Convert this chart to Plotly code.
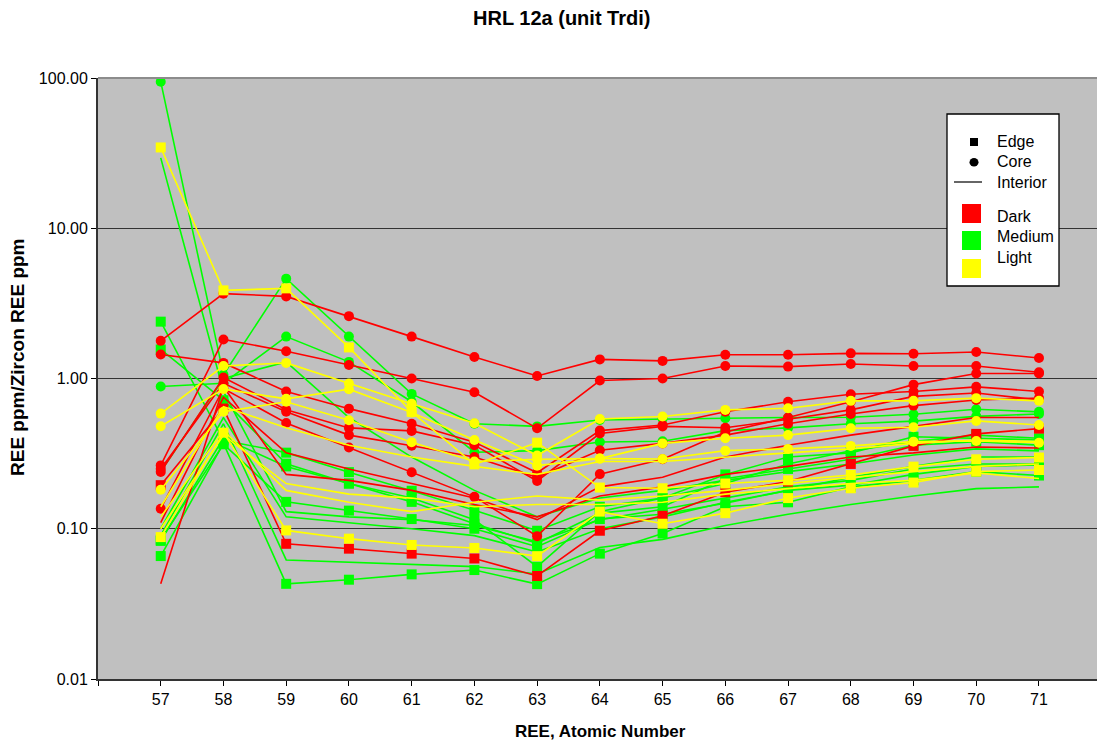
import plotly.graph_objects as go

# REE atomic numbers (La..Lu); 56 is an empty leading slot on the axis
atomic_numbers = [57, 58, 59, 60, 61, 62, 63, 64, 65, 66, 67, 68, 69, 70, 71]
tick_positions = [56] + atomic_numbers
tick_labels = [""] + [str(n) for n in atomic_numbers]

y_tick_values = [0.01, 0.1, 1, 10, 100]
y_tick_labels = ["0.01", "0.10", "1.00", "10.00", "100.00"]

# Dark grains
dark_core = [
    [1.78, 3.67, 3.52, 2.60, 1.90, 1.39, 1.04, 1.34, 1.31, 1.44, 1.44, 1.47, 1.46, 1.50, 1.37],
    [0.264, 1.82, 1.52, 1.23, 1.00, 0.81, 0.466, 0.97, 1.00, 1.21, 1.20, 1.25, 1.21, 1.21, 1.10],
    [1.445, 1.27, 0.82, 0.63, 0.50, 0.377, 0.236, 0.45, 0.49, 0.60, 0.70, 0.786, 0.82, 0.88, 0.82],
    [0.239, 1.015, 0.62, 0.469, 0.448, 0.36, 0.208, 0.43, 0.48, 0.47, 0.535, 0.618, 0.76, 0.80, 0.72],
    [0.25, 0.93, 0.60, 0.42, 0.357, 0.30, 0.22, 0.333, 0.37, 0.42, 0.50, 0.58, 0.66, 0.72, 0.74],
    [0.136, 0.858, 0.506, 0.347, 0.238, 0.163, 0.0893, 0.231, 0.29, 0.44, 0.55, 0.70, 0.91, 1.08, 1.08],
]
dark_edge = [
    [0.195, 0.631, 0.0794, 0.0737, 0.0683, 0.0634, 0.0485, 0.097, 0.122, 0.175, 0.206, 0.27, 0.356, 0.428, 0.464],
]
dark_interior = [
    [0.043, 0.88, 0.23, 0.21, 0.18, 0.145, 0.12, 0.165, 0.19, 0.23, 0.26, 0.30, 0.32, 0.35, 0.345],
    [0.11, 0.75, 0.32, 0.25, 0.20, 0.16, 0.115, 0.19, 0.22, 0.30, 0.36, 0.42, 0.48, 0.55, 0.55],
]

# Medium grains
medium_core = [
    [94.5, 1.06, 4.62, 1.90, 0.79, 0.50, 0.48, 0.53, 0.54, 0.544, 0.55, 0.552, 0.578, 0.624, 0.60],
    [0.884, 0.93, 1.90, 1.29, 0.70, 0.323, 0.331, 0.378, 0.382, 0.45, 0.469, 0.50, 0.52, 0.56, 0.58],
]
medium_edge = [
    [2.39, 0.388, 0.321, 0.238, 0.179, 0.133, 0.097, 0.14, 0.16, 0.23, 0.30, 0.32, 0.41, 0.40, 0.39],
    [1.56, 0.717, 0.271, 0.20, 0.151, 0.108, 0.080, 0.127, 0.14, 0.215, 0.25, 0.29, 0.36, 0.38, 0.36],
    [0.0845, 0.365, 0.151, 0.132, 0.116, 0.10, 0.076, 0.116, 0.125, 0.148, 0.18, 0.195, 0.23, 0.26, 0.266],
    [0.0658, 0.37, 0.043, 0.0458, 0.0497, 0.0531, 0.0428, 0.0683, 0.093, 0.14, 0.15, 0.19, 0.21, 0.24, 0.226],
    [0.083, 0.40, 0.26, 0.20, 0.16, 0.115, 0.0559, 0.13, 0.16, 0.20, 0.27, 0.33, 0.38, 0.42, 0.40],
]
medium_interior = [
    [29.4, 0.82, 0.13, 0.12, 0.115, 0.105, 0.082, 0.115, 0.135, 0.16, 0.19, 0.21, 0.25, 0.27, 0.27],
    [0.09, 0.50, 0.062, 0.060, 0.058, 0.056, 0.050, 0.075, 0.085, 0.105, 0.125, 0.145, 0.165, 0.185, 0.19],
    [0.10, 0.55, 0.12, 0.11, 0.10, 0.09, 0.07, 0.10, 0.12, 0.15, 0.18, 0.22, 0.26, 0.30, 0.30],
    [0.24, 1.00, 1.29, 0.55, 0.30, 0.18, 0.12, 0.16, 0.18, 0.21, 0.24, 0.27, 0.31, 0.34, 0.33],
]

# Light grains
light_core = [
    [0.584, 1.21, 1.27, 0.926, 0.678, 0.504, 0.307, 0.538, 0.558, 0.618, 0.634, 0.71, 0.71, 0.74, 0.71],
    [0.481, 0.85, 0.732, 0.849, 0.593, 0.39, 0.263, 0.293, 0.37, 0.40, 0.42, 0.466, 0.474, 0.522, 0.49],
    [0.182, 0.60, 0.70, 0.527, 0.377, 0.28, 0.29, 0.293, 0.291, 0.331, 0.34, 0.356, 0.38, 0.384, 0.374],
]
light_edge = [
    [34.5, 3.86, 3.98, 1.61, 0.60, 0.268, 0.374, 0.188, 0.186, 0.20, 0.21, 0.228, 0.259, 0.29, 0.298],
    [0.088, 0.436, 0.0975, 0.0859, 0.078, 0.0745, 0.0657, 0.13, 0.108, 0.127, 0.16, 0.186, 0.203, 0.24, 0.246],
]
light_interior = [
    [0.12, 0.45, 0.18, 0.15, 0.13, 0.15, 0.165, 0.155, 0.165, 0.18, 0.20, 0.22, 0.24, 0.26, 0.27],
    [0.10, 0.42, 0.20, 0.17, 0.16, 0.14, 0.145, 0.145, 0.15, 0.17, 0.185, 0.20, 0.21, 0.235, 0.216],
    [0.14, 0.65, 0.47, 0.36, 0.30, 0.26, 0.23, 0.28, 0.28, 0.30, 0.32, 0.34, 0.37, 0.39, 0.38],
]

RED, GREEN, YELLOW = "#FF0000", "#00FF00", "#FFFF00"
FONT = "Liberation Sans, Arial, sans-serif"

fig = go.Figure()


def add_group(series_list, color, symbol):
    for values in series_list:
        if symbol is None:
            fig.add_trace(go.Scatter(
                x=atomic_numbers, y=values, mode="lines",
                line=dict(color=color, width=1.6), showlegend=False,
                hoverinfo="skip"))
        else:
            fig.add_trace(go.Scatter(
                x=atomic_numbers, y=values, mode="lines+markers",
                line=dict(color=color, width=1.6),
                marker=dict(color=color, symbol=symbol, size=10,
                            line=dict(width=0)),
                showlegend=False, hoverinfo="skip"))


add_group(medium_interior, GREEN, None)
add_group(medium_edge, GREEN, "square")
add_group(medium_core, GREEN, "circle")
add_group(dark_interior, RED, None)
add_group(dark_edge, RED, "square")
add_group(dark_core, RED, "circle")
add_group(light_interior, YELLOW, None)
add_group(light_edge, YELLOW, "square")
add_group(light_core, YELLOW, "circle")

W, H = 1097, 745
L, R, T, B = 98, 0, 78, 66
pw, ph = W - L - R, H - T - B


def px(x):
    return (x - L) / pw


def py(y):
    return 1 - (y - T) / ph


shapes = []
annotations = []

# plot-area top border
shapes.append(dict(type="line", xref="paper", yref="paper", x0=0, x1=1, y0=1, y1=1,
                   line=dict(color="#8c8c8c", width=2)))

# legend box
shapes.append(dict(type="rect", xref="paper", yref="paper",
                   x0=px(947), x1=px(1059), y0=py(286), y1=py(114),
                   fillcolor="white", line=dict(color="black", width=1.3)))
# Edge marker
shapes.append(dict(type="rect", xref="paper", yref="paper",
                   x0=px(970), x1=px(978), y0=py(146), y1=py(138),
                   fillcolor="black", line=dict(width=0)))
# Core marker
shapes.append(dict(type="circle", xref="paper", yref="paper",
                   x0=px(969.5), x1=px(978.5), y0=py(166.5), y1=py(158),
                   fillcolor="black", line=dict(width=0)))
# Interior line
shapes.append(dict(type="line", xref="paper", yref="paper",
                   x0=px(954), x1=px(982), y0=py(182), y1=py(182),
                   line=dict(color="black", width=1.2)))
# colour swatches
for color, top in [(RED, 204), (GREEN, 231), (YELLOW, 259)]:
    shapes.append(dict(type="rect", xref="paper", yref="paper",
                       x0=px(962), x1=px(981), y0=py(top + 19), y1=py(top),
                       fillcolor=color, line=dict(width=0)))

for text, yc in [("Edge", 141), ("Core", 161), ("Interior", 182),
                 ("Dark", 216), ("Medium", 236), ("Light", 257)]:
    annotations.append(dict(text=text, xref="paper", yref="paper",
                            x=px(995), y=py(yc), xanchor="left", yanchor="middle",
                            showarrow=False, font=dict(family=FONT, size=16, color="black")))

# title and axis titles
annotations.append(dict(text="<b>HRL 12a (unit Trdi)</b>", xref="paper", yref="paper",
                        x=px(561), y=py(18), xanchor="center", yanchor="middle",
                        showarrow=False, font=dict(family=FONT, size=20, color="black")))
annotations.append(dict(text="<b>REE, Atomic Number</b>", xref="paper", yref="paper",
                        x=px(600), y=py(731), xanchor="center", yanchor="middle",
                        showarrow=False, font=dict(family=FONT, size=17, color="black")))
annotations.append(dict(text="<b>REE ppm/Zircon REE ppm</b>", xref="paper", yref="paper",
                        x=px(17), y=py(357), xanchor="center", yanchor="middle",
                        textangle=-90, showarrow=False,
                        font=dict(family=FONT, size=19, color="black")))

fig.update_layout(
    width=W, height=H,
    margin=dict(l=L, r=R, t=T, b=B, pad=0),
    paper_bgcolor="white",
    plot_bgcolor="#C0C0C0",
    showlegend=False,
    shapes=shapes,
    annotations=annotations,
    font=dict(family=FONT, size=16, color="black"),
)

fig.update_xaxes(
    range=[56, 71.925],
    tickmode="array", tickvals=tick_positions, ticktext=tick_labels,
    ticks="outside", ticklen=5, tickcolor="black", tickwidth=1,
    showgrid=False, zeroline=False,
    showline=True, linecolor="#333333", linewidth=2,
    tickfont=dict(family=FONT, size=16, color="black"),
)
fig.update_yaxes(
    type="log", range=[-2, 2],
    tickmode="array", tickvals=y_tick_values, ticktext=y_tick_labels,
    ticks="outside", ticklen=5, tickcolor="black", tickwidth=1,
    showgrid=True, gridcolor="#333333", gridwidth=1.3,
    zeroline=False,
    showline=True, linecolor="#333333", linewidth=2,
    tickfont=dict(family=FONT, size=16, color="black"),
)

fig.write_html("out.html")
